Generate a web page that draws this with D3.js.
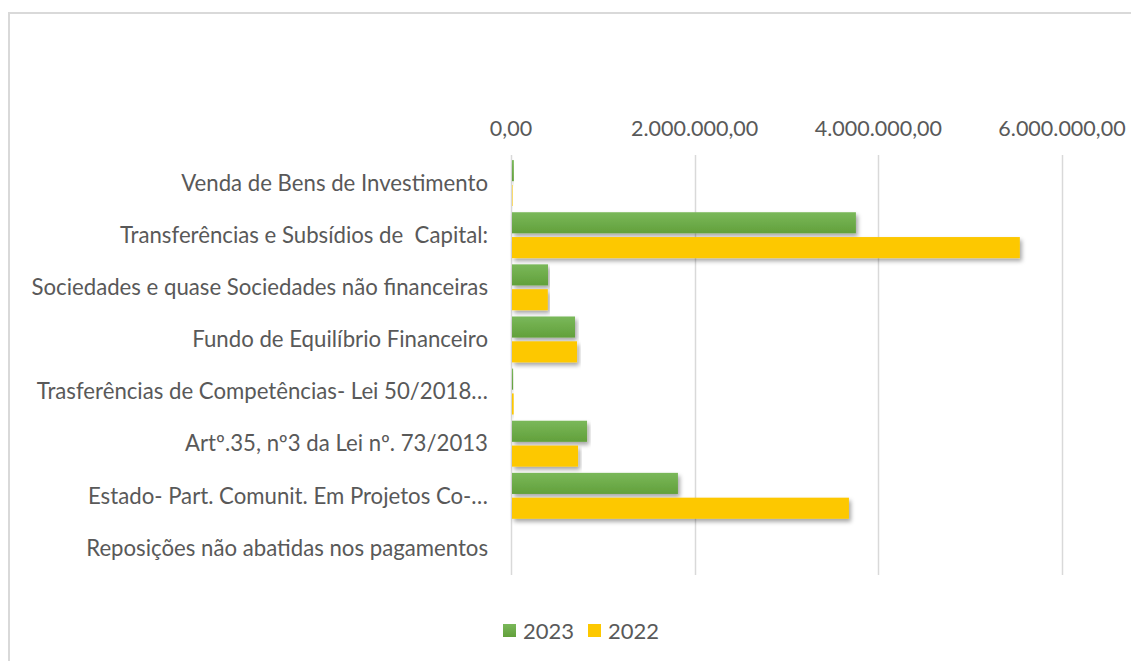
<!DOCTYPE html>
<html lang="pt">
<head>
  <meta charset="UTF-8">
  <title>Receitas de capital 2023 / 2022</title>
  <script src="https://d3js.org/d3.v7.min.js"></script>
  <style>
    body {
      margin: 0;
      background: #fff;
      font-family: "Lato", "Open Sans", sans-serif;
    }
    text {
      fill: #595959;
      white-space: pre;
    }
  </style>
</head>
<body>
<div id="chart"></div>

<script>
  // categories, top to bottom as shown
  var categories = [
    "Venda de Bens de Investimento",
    "Transferências e Subsídios de  Capital:",
    "Sociedades e quase Sociedades não financeiras",
    "Fundo de Equilíbrio Financeiro",
    "Trasferências de Competências- Lei 50/2018…",
    "Artº.35, nº3 da Lei nº. 73/2013",
    "Estado- Part. Comunit. Em Projetos Co-…",
    "Reposições não abatidas nos pagamentos"
  ];
  var series = ["2023", "2022"];
  var values2023 = [20000, 3745000, 392000, 686000, 12000, 817000, 1807000, 0];
  var values2022 = [6000, 5530000, 390000, 708000, 18000, 719000, 3669000, 0];
  var ticks = [0, 2000000, 4000000, 6000000];
  var colors = { "2023": "#70ad47", "2022": "#fdc800" };

  var width = 1131, height = 661;

  var svg = d3.select("#chart").append("svg")
    .attr("width", width)
    .attr("height", height);

  var defs = svg.append("defs");
  var grad = defs.append("linearGradient")
    .attr("id", "greenGrad")
    .attr("x1", 0).attr("y1", 0).attr("x2", 0).attr("y2", 1);
  grad.append("stop").attr("offset", "0%").attr("stop-color", "#7ab85a");
  grad.append("stop").attr("offset", "100%").attr("stop-color", "#62a03b");

  defs.append("filter")
    .attr("id", "shadow")
    .attr("x", "-5%").attr("y", "-30%").attr("width", "110%").attr("height", "180%")
    .append("feDropShadow")
    .attr("dx", 2).attr("dy", 3)
    .attr("stdDeviation", 2)
    .attr("flood-color", "#000")
    .attr("flood-opacity", 0.35);

  // frame (only top and left edges are visible in the crop)
  svg.append("line")
    .attr("x1", 8).attr("x2", width).attr("y1", 13).attr("y2", 13)
    .attr("stroke", "#d9d9d9").attr("stroke-width", 2);
  svg.append("line")
    .attr("x1", 9).attr("x2", 9).attr("y1", 12).attr("y2", height)
    .attr("stroke", "#d9d9d9").attr("stroke-width", 2);

  var pt = d3.formatLocale({ decimal: ",", thousands: ".", grouping: [3], currency: ["", " €"] });
  var fmt = pt.format(",.2f");

  var x = d3.scaleLinear().domain([0, 6000000]).range([511, 1062]);
  var y0 = d3.scaleBand().domain(categories).range([157, 574]).paddingInner(0.1).paddingOuter(0.05);
  var y1 = d3.scaleBand().domain(series).range([0, y0.bandwidth()]).paddingInner(0.15).paddingOuter(0.02);

  // gridlines
  svg.append("g").selectAll("line")
    .data(ticks)
    .join("line")
    .attr("x1", d => Math.round(x(d)) + 0.5)
    .attr("x2", d => Math.round(x(d)) + 0.5)
    .attr("y1", 155).attr("y2", 575)
    .attr("stroke", "#d9d9d9").attr("stroke-width", 1.5);

  // tick labels on top
  svg.append("g").selectAll("text")
    .data(ticks)
    .join("text")
    .attr("x", d => x(d))
    .attr("y", 128)
    .attr("dy", "0.35em")
    .attr("text-anchor", "middle")
    .style("font-size", "21.5px")
    .text(d => fmt(d));

  // bars
  var rows = categories.map((c, i) => ({ cat: c, "2023": values2023[i], "2022": values2022[i] }));

  var groups = svg.append("g").selectAll("g")
    .data(rows)
    .join("g")
    .attr("transform", d => "translate(0," + y0(d.cat) + ")");

  groups.selectAll("rect")
    .data(d => series.map(s => ({ key: s, value: d[s] })))
    .join("rect")
    .attr("x", x(0) + 1)
    .attr("y", d => y1(d.key))
    .attr("width", d => Math.max(0, x(d.value) - x(0)))
    .attr("height", y1.bandwidth())
    .attr("fill", d => d.key === "2023" ? "url(#greenGrad)" : colors["2022"])
    .attr("filter", "url(#shadow)");

  // category labels
  svg.append("g").selectAll("text")
    .data(categories)
    .join("text")
    .attr("x", 488)
    .attr("y", d => y0(d) + y0.bandwidth() / 2)
    .attr("dy", "0.35em")
    .attr("text-anchor", "end")
    .style("font-size", "22.2px")
    .text(d => d);

  // legend
  var legend = svg.append("g").attr("transform", "translate(503,624)");
  var items = legend.selectAll("g")
    .data(series)
    .join("g")
    .attr("transform", (d, i) => "translate(" + (i * 85) + ",0)");
  items.append("rect")
    .attr("width", 13).attr("height", 13)
    .attr("fill", d => d === "2023" ? "url(#greenGrad)" : colors["2022"]);
  items.append("text")
    .attr("x", 20).attr("y", 7)
    .attr("dy", "0.35em")
    .style("font-size", "22px")
    .text(d => d);
</script>
</body>
</html>
